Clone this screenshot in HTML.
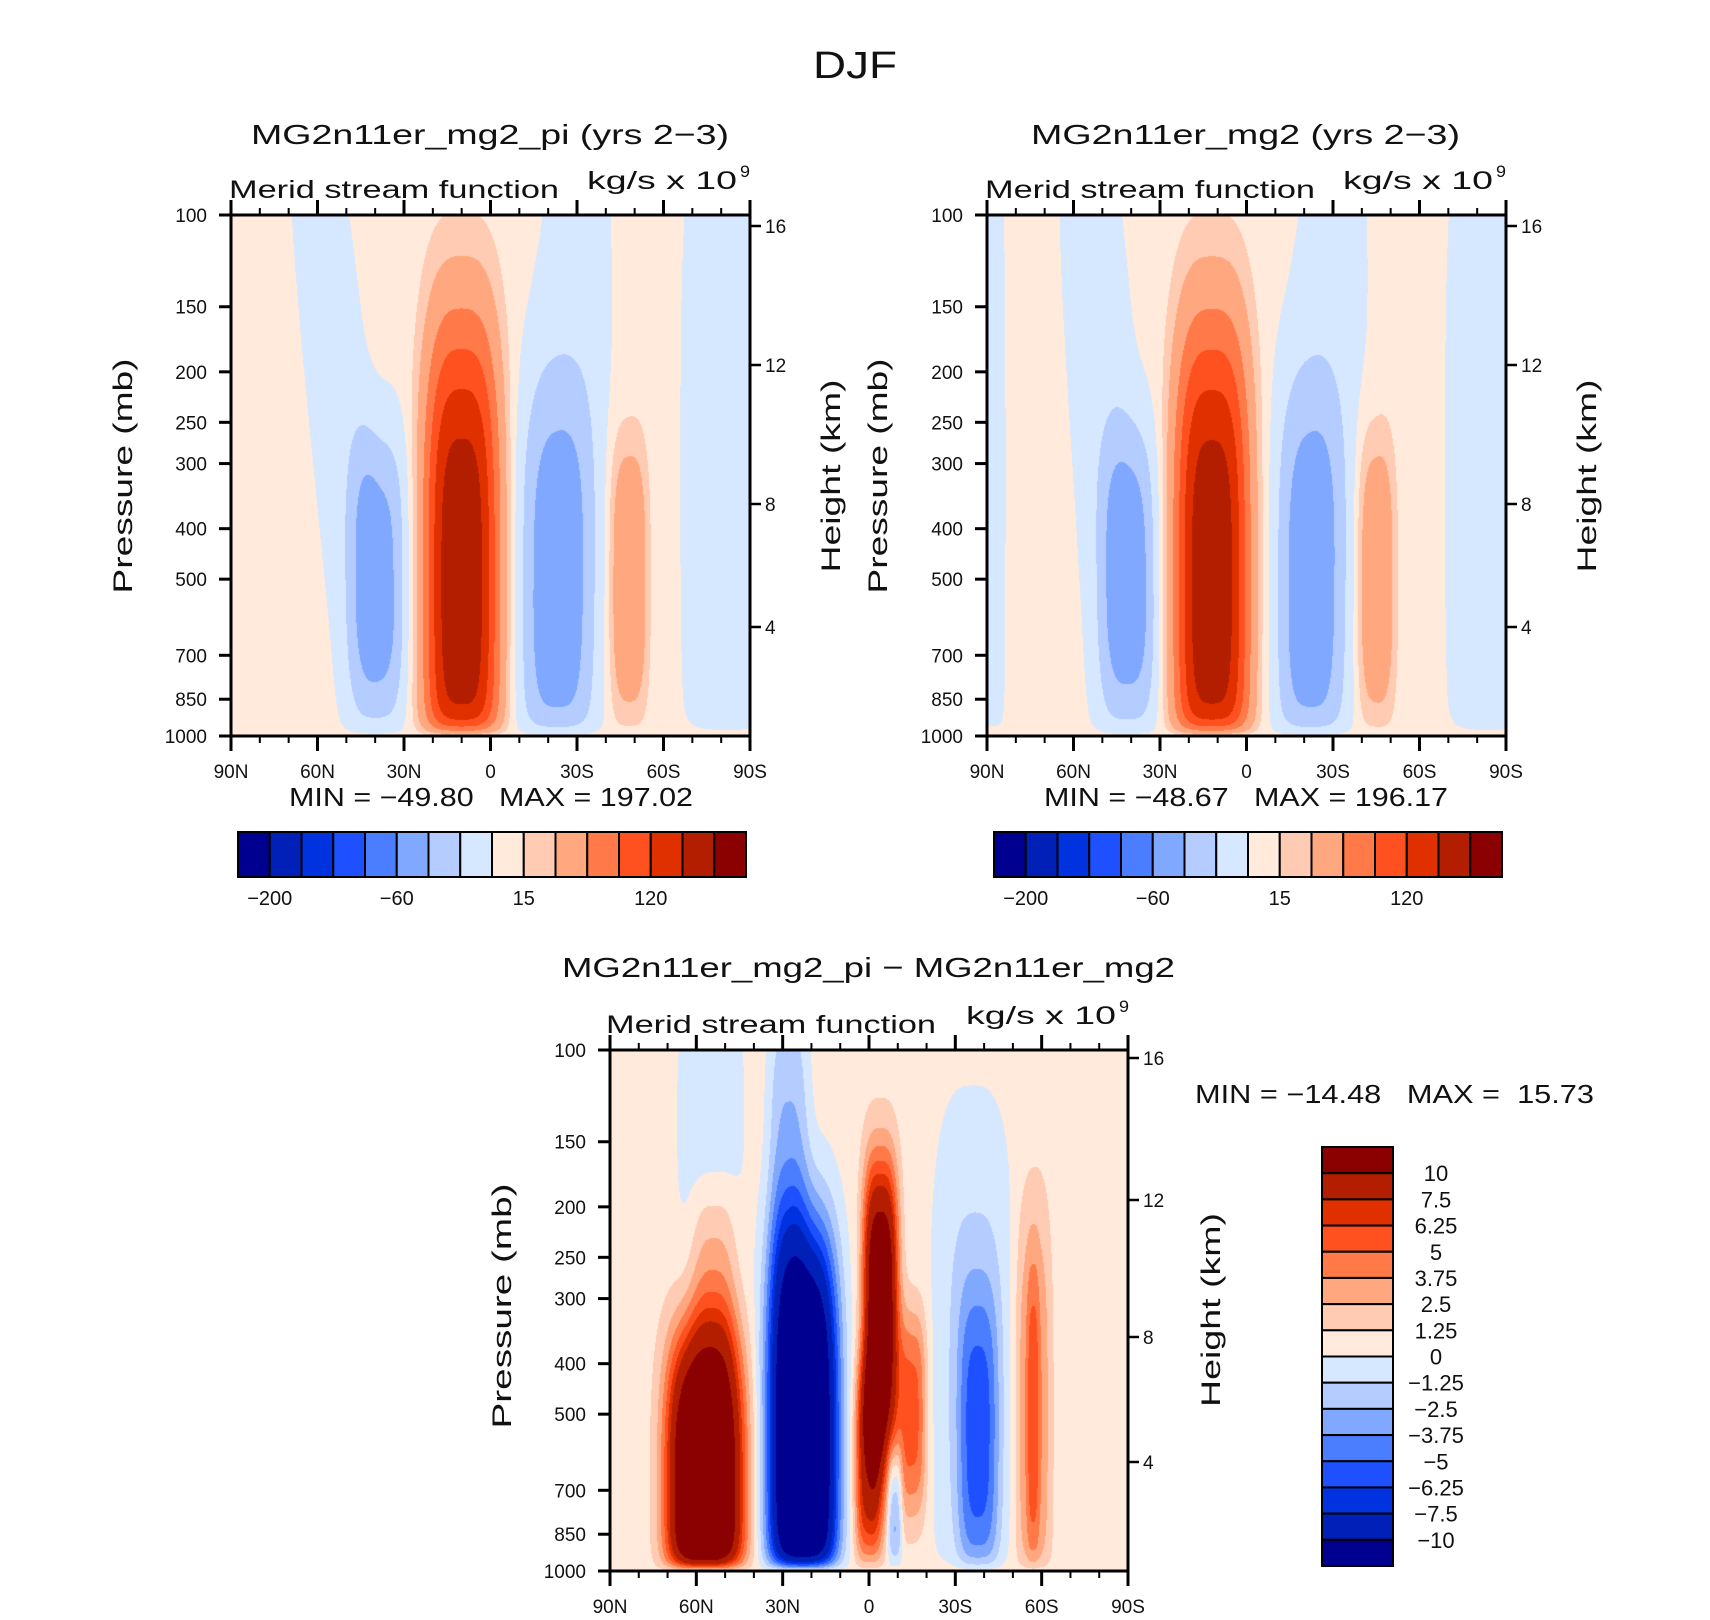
<!DOCTYPE html>
<html><head><meta charset="utf-8">
<style>
html,body{margin:0;padding:0;background:#fff;}
#root{position:relative;width:1710px;height:1620px;overflow:hidden;background:#fff;font-family:"Liberation Sans",sans-serif;}
canvas{position:absolute;}
svg{position:absolute;left:0;top:0;}
text{font-family:"Liberation Sans",sans-serif;fill:#111;white-space:pre;}
</style></head>
<body>
<div id="root">
<canvas id="c1" width="519" height="521" style="left:231px;top:215px"></canvas>
<canvas id="c2" width="519" height="521" style="left:987px;top:215px"></canvas>
<canvas id="c3" width="518" height="521" style="left:610px;top:1050px"></canvas>
<svg id="ov" width="1710" height="1620" xml:space="preserve"></svg>
</div>
<script>
// ---- data ----
const colors = ["#000090","#0020b8","#0032e0","#1e50ff","#4a7dff","#80a8ff","#b4ccff","#d6e8ff","#ffeadb","#ffcbb2","#ffa880","#ff7a48","#ff5020","#e03000","#b31e00","#8b0000"];
const levelsTop = [-250,-200,-150,-100,-60,-40,-20,0,15,30,60,90,120,150,185];
const levelsDiff = [-10,-7.5,-6.25,-5,-3.75,-2.5,-1.25,0,1.25,2.5,3.75,5,6.25,7.5,10];
const topBarLabels = ["−200","−60","15","120"];
const diffBarLabels = ["10","7.5","6.25","5","3.75","2.5","1.25","0","−1.25","−2.5","−3.75","−5","−6.25","−7.5","−10"];
const pressureTicks = [100,150,200,250,300,400,500,700,850,1000];
const latTicks = [90,60,30,0,-30,-60,-90];
const latTickLabels = ["90N","60N","30N","0","30S","60S","90S"];
const heightTicks = [16,12,8,4];
// circulation cells: amplitude, centre lat, lat width, slant (deg per unit log-p), centre z=log10(1000/p), z width
const p1Amp   = [170, -50, -14, -48, -12, 50, -14];
const p1Lat   = [10, 39, 41, -23, -24, -48, -82];
const p1LatW  = [13, 10, 11, 13, 14, 6.5, 16];
const p1Slant = [0, 0, 18, 0, -6, 0, 0];
const p1Z     = [0.3, 0.31, 0.5, 0.3, 0.5, 0.3, 0.5];
const p1ZW    = [0.5, 0.28, 0.75, 0.4, 0.75, 0.27, 0.8];
const p2Amp   = [169, -49, -14, -48, -12, 48, -14, -10];
const p2Lat   = [12, 41, 42, -22, -24, -45, -84, 88];
const p2LatW  = [13, 10, 12, 12, 14, 6.5, 15, 5];
const p2Slant = [0, 0, 12, 0, -6, 0, 0, 0];
const p2Z     = [0.3, 0.31, 0.5, 0.3, 0.5, 0.3, 0.5, 0.5];
const p2ZW    = [0.5, 0.29, 0.75, 0.4, 0.75, 0.28, 0.8, 0.8];
const p3Amp   = [16, 3, -17, -3, 13, 7, 5, -4, -4.5, -2, 3.5, 2, -1.5];
const p3Lat   = [57, 54, 23, 28, -4, 0, -15, -9, -38, -36, -57, -57, 55];
const p3LatW  = [13, 8, 12, 7, 6, 5, 5, 2.5, 7, 14, 6, 2, 12];
const p3Slant = [0, 0, 0, 0, 0, 0, 0, 0, 0, 0, 0, 0, 0];
const p3Z     = [0.15, 0.55, 0.25, 0.8, 0.49, 0.2, 0.3, 0.12, 0.25, 0.4, 0.3, 0.3, 0.85];
const p3ZW    = [0.3, 0.2, 0.4, 0.3, 0.29, 0.2, 0.2, 0.12, 0.3, 0.5, 0.4, 0.3, 0.3];

// ---- axis helpers ----
function makeAxes(left, top, W, H){
  return {
    x: lat => left + (90 - lat) / 180 * W,
    y: p => top + H - Math.log10(1000 / p) * H,
    left, top, W, H
  };
}
function hexRGB(h){return [parseInt(h.substr(1,2),16),parseInt(h.substr(3,2),16),parseInt(h.substr(5,2),16)];}
const rgb = colors.map(hexRGB);

function drawField(id, base, amp, lat, latw, slant, zc, zw, levels){
  const cv = document.getElementById(id);
  const ctx = cv.getContext('2d');
  const W = cv.width, H = cv.height;
  const img = ctx.createImageData(W, H);
  for(let j=0;j<H;j++){
    const z = (H - 0.5 - j) / H;
    const taper = 1 - Math.exp(-z / 0.02);
    for(let i=0;i<W;i++){
      const la = 90 - (i + 0.5) / W * 180;
      let s = 0;
      for(let k=0;k<amp.length;k++){
        const dx = Math.abs((la - (lat[k] + slant[k]*z)) / latw[k]);
        const dz = Math.abs((z - zc[k]) / zw[k]);
        s += amp[k] * Math.exp(-(dx*dx*dx + dz*dz*dz));
      }
      const v = base + s * taper;
      let idx = 0;
      while(idx < levels.length && v >= levels[idx]) idx++;
      const c = rgb[idx];
      const o = (j*W + i) * 4;
      img.data[o]=c[0]; img.data[o+1]=c[1]; img.data[o+2]=c[2]; img.data[o+3]=255;
    }
  }
  ctx.putImageData(img, 0, 0);
}
drawField('c1', 5, p1Amp, p1Lat, p1LatW, p1Slant, p1Z, p1ZW, levelsTop);
drawField('c2', 5, p2Amp, p2Lat, p2LatW, p2Slant, p2Z, p2ZW, levelsTop);
drawField('c3', 0.6, p3Amp, p3Lat, p3LatW, p3Slant, p3Z, p3ZW, levelsDiff);

// ---- svg overlay ----
const NS = "http://www.w3.org/2000/svg";
const svg = document.getElementById('ov');
function el(tag, attrs, parent){
  const e = document.createElementNS(NS, tag);
  for(const k in attrs) e.setAttribute(k, attrs[k]);
  (parent||svg).appendChild(e);
  return e;
}
function txt(str, attrs, parent){ const t = el('text', attrs, parent); t.textContent = str; return t; }

function drawAxes(ax, heightPos, name){
  const g = el('g', {});
  
  
  const L=ax.left, T=ax.top, R=ax.left+ax.W, B=ax.top+ax.H;
  for(let lat=90; lat>=-90; lat-=10){
    const x = ax.x(lat);
    const major = (lat % 30 === 0);
    const len = major ? 15 : 7;
    el('line',{x1:x,y1:B,x2:x,y2:B+len,stroke:'#000','stroke-width':major?3:2},g);
    el('line',{x1:x,y1:T,x2:x,y2:T-len,stroke:'#000','stroke-width':major?3:2},g);
  }
  latTicks.forEach((lat,i)=>{
    const t = txt(latTickLabels[i],{x:ax.x(lat),y:B+42,'font-size':19,'text-anchor':'middle'},g);
    
    
  });
  pressureTicks.forEach(p=>{
    const y = ax.y(p);
    el('line',{x1:L-12,y1:y,x2:L,y2:y,stroke:'#000','stroke-width':3},g);
    const t = txt(String(p),{x:L-24,y:y+7,'font-size':19,'text-anchor':'end'},g);
    
    
  });
  heightTicks.forEach((h,i)=>{
    const y = heightPos[i];
    el('line',{x1:R,y1:y,x2:R+11,y2:y,stroke:'#000','stroke-width':2.5},g);
    const t = txt(String(h),{x:R+15,y:y+7,'font-size':19},g);
    
    
  });
  el('rect',{x:L,y:T,width:ax.W,height:ax.H,fill:'none',stroke:'#000','stroke-width':3},g);
}
function vlabel(str, cx, cy, len, name){
  const t = txt(str,{x:cx,y:cy,'font-size':27,'text-anchor':'middle',textLength:len,lengthAdjust:'spacingAndGlyphs',transform:`rotate(-90 ${cx} ${cy})`,dy:9});
  
  
}
function hText(str,x,y,size,len,name,anchor){
  const a = {x:x,y:y,'font-size':size,textLength:len,lengthAdjust:'spacingAndGlyphs'};
  if(anchor) a['text-anchor']=anchor;
  const t = txt(str,a);
  
  
  return t;
}
function hbar(x0,x1,y0,h,name){
  const g = el('g',{});
  
  
  const w=(x1-x0)/colors.length;
  colors.forEach((c,i)=>{
    const r = el('rect',{x:x0+i*w,y:y0,width:w,height:h,fill:c,stroke:'#000','stroke-width':2},g);
    
    
  });
  topBarLabels.forEach((s,i)=>{
    const t = txt(s,{x:x0+(1+4*i)*w,y:y0+h+28,'font-size':20,'text-anchor':'middle'},g);
    
    
  });
}

const ax1 = makeAxes(231,215,519,521);
const ax2 = makeAxes(987,215,519,521);
const ax3 = makeAxes(610,1050,518,521);
drawAxes(ax1,[226,365,504,627],'panel-pi');
drawAxes(ax2,[226,365,504,627],'panel-mg2');
drawAxes(ax3,[1058,1200,1337,1462],'panel-diff');

hText('DJF',813,78,38,84,'figure-title');
hText('MG2n11er_mg2_pi (yrs 2−3)',251,144,28,478,'panel-pi-title');
hText('MG2n11er_mg2 (yrs 2−3)',1031,144,28,429,'panel-mg2-title');
hText('MG2n11er_mg2_pi − MG2n11er_mg2',562,977,28,613,'panel-diff-title');

[[229,587,ax1],[985,1343,ax2],[606,966,ax3]].forEach(([mx,kx,ax],i)=>{
  const yb = ax.top-14;
  hText('Merid stream function',mx,yb-3,25,330,'subtitle-left');
  hText('kg/s x 10',kx,yb-12,25,150,'units-label');
  hText('9',kx+153,yb-24,17,10,'units-exponent');
});

vlabel('Pressure (mb)',123,476,235,'y-axis-title');
vlabel('Height (km)',831,476,193,'height-axis-title');
vlabel('Pressure (mb)',878,476,235,'y-axis-title');
vlabel('Height (km)',1587,476,193,'height-axis-title');
vlabel('Pressure (mb)',502,1306,245,'y-axis-title');
vlabel('Height (km)',1211,1310,194,'height-axis-title');

hText('MIN = −49.80   MAX = 197.02',289,806,26,404,'min-max-pi');
hText('MIN = −48.67   MAX = 196.17',1044,806,26,404,'min-max-mg2');
hText('MIN = −14.48   MAX =  15.73',1195,1103,26,399,'min-max-diff');

hbar(238,746,832,45,'colorbar-pi');
hbar(994,1502,832,45,'colorbar-mg2');

(function(){
  const g = el('g',{});
  
  
  const x0=1322,w=71,y0=1147,h=(1566-1147)/16;
  for(let i=0;i<16;i++){
    const r = el('rect',{x:x0,y:y0+i*h,width:w,height:h,fill:colors[15-i],stroke:'#000','stroke-width':2},g);
    
    
  }
  diffBarLabels.forEach((s,i)=>{
    const t = txt(s,{x:1436,y:y0+(i+1)*h+8,'font-size':22,'text-anchor':'middle'},g);
    
    
  });
})();
</script>
</body></html>
